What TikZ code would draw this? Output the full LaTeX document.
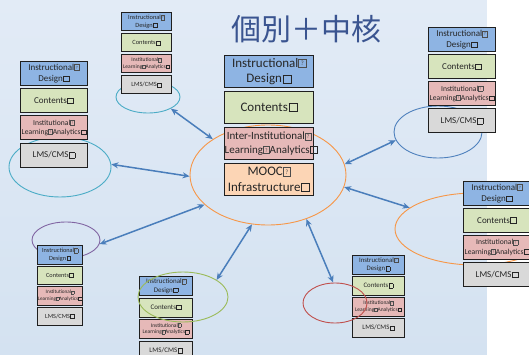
\documentclass[tikz,border=0pt]{standalone}
\usepackage{fontspec}
\setmainfont{Carlito}
\newfontfamily\cjk{Noto Sans CJK JP}
\usepackage{graphicx}
\usetikzlibrary{shapes.geometric,arrows.meta}
\definecolor{cblue}{HTML}{8EB4E3}
\definecolor{cgreen}{HTML}{D7E4BD}
\definecolor{cpink}{HTML}{E6B9B8}
\definecolor{corange}{HTML}{FCD5B5}
\definecolor{cgray}{HTML}{D9D9D9}
\definecolor{cborder}{HTML}{1F1F1F}
\definecolor{ctext}{HTML}{262626}
\definecolor{carrow}{HTML}{4A7EBB}
\definecolor{eorange}{HTML}{F79646}
\definecolor{eteal}{HTML}{4BACC6}
\definecolor{eblue}{HTML}{4F81BD}
\definecolor{epurple}{HTML}{8064A2}
\definecolor{egreen}{HTML}{9BBB59}
\definecolor{ered}{HTML}{C0504D}
\definecolor{ctitle}{HTML}{3A5490}
\definecolor{bgtop}{HTML}{E2EBF6}
\definecolor{bgbot}{HTML}{D4E2F1}
\newcommand\qb{{\setlength\fboxsep{0pt}\setlength\fboxrule{0.05em}\color{black!70}\fbox{\makebox[0.5em]{\rule{0pt}{0.62em}\raisebox{0.1em}{\scalebox{0.5}{?}}}}}}
\newcommand\sqb{\kern0.05em{\setlength\fboxsep{0pt}\setlength\fboxrule{0.08em}\fbox{\rule{0pt}{0.55em}\hspace{0.55em}}}}
\newcommand\fsz[1]{\fontsize{#1pt}{\dimexpr#1pt*12/10\relax}\selectfont}
\tikzset{
  bx/.style={draw=cborder,line width=1pt,inner sep=0pt,anchor=north west,align=center,text=ctext},
  ell/.style={ellipse,inner sep=0pt,line width=0.9pt},
  arr/.style={draw=carrow,line width=1.5pt,{Stealth[length=7pt,width=6pt]}-{Stealth[length=7pt,width=6pt]}}
}
% #1 name, #2 xleft, #3 width, #4 top, #5 h, #6 gap, #7 fs, #8 fs pink
\newcommand\satstack[8]{%
 \node[bx,fill=cblue,text width=#3pt,minimum height=#5pt,font=\fsz{#7}] (#1a) at (#2,#4) {Instructional\qb\\Design\sqb};
 \node[bx,fill=cgreen,text width=#3pt,minimum height=#5pt,font=\fsz{#7}] (#1b) at (#2,#4+#5+#6) {Contents\sqb};
 \node[bx,fill=cpink,text width=#3pt,minimum height=#5pt,font=\fsz{#8}] (#1c) at (#2,#4+2*#5+2*#6) {Institutional\qb\\Learning\qb Analytics\sqb};
 \node[bx,fill=cgray,text width=#3pt,minimum height=#5pt,font=\fsz{#7}] (#1d) at (#2,#4+3*#5+3*#6) {LMS/CMS\sqb};
}
\begin{document}
\begin{tikzpicture}[x=1pt,y=-1pt]
\useasboundingbox (0,0) rectangle (529,355);
\clip (0,0) rectangle (529,355);
\shade[top color=bgtop,bottom color=bgbot] (0,0) rectangle (487,355);
\fill[white] (487,0) rectangle (529,355);
% title
\node[font=\cjk\fontsize{30pt}{36pt}\selectfont,text=ctitle] (title) at (306,29) {個別＋中核};
% ellipses behind
\node[ell,draw=eorange,minimum width=156pt,minimum height=100pt] (ce) at (268,175) {};
\node[ell,draw=eteal,minimum width=64pt,minimum height=32pt] (tle) at (148,97) {};
\node[ell,draw=eteal,minimum width=102pt,minimum height=60pt] (le) at (60,167) {};
\node[ell,draw=eblue,minimum width=88pt,minimum height=52pt] (rte) at (438,132) {};
\node[ell,draw=eorange,minimum width=160pt,minimum height=72pt] (rme) at (475,229) {};
\node[ell,draw=epurple,minimum width=68pt,minimum height=36pt] (ble) at (66,240) {};
% central stack
\node[bx,line width=1.3pt,fill=cblue,text width=89pt,minimum height=32pt,font=\fsz{13}] (ca) at (224,55) {Instructional\qb\\Design\sqb};
\node[bx,line width=1.3pt,fill=cgreen,text width=89pt,minimum height=32pt,font=\fsz{13}] (cb) at (224,91) {Contents\sqb};
\node[bx,line width=1.3pt,fill=cpink,text width=89pt,minimum height=32pt,font=\fsz{11}] (cc) at (224,127) {Inter-Institutional\qb\\Learning\qb Analytics\sqb};
\node[bx,line width=1.3pt,fill=corange,text width=89pt,minimum height=32pt,font=\fsz{13}] (cd) at (224,163) {MOOC\qb\\Infrastructure\sqb};
% satellite stacks
\satstack{tl}{121}{50}{12}{18.5}{2.5}{6.4}{5.5}
\satstack{l}{20}{67}{61}{24}{3.2}{9}{7.6}
\satstack{rt}{428}{67}{27}{24.5}{2.5}{9}{7.6}
\satstack{rm}{463}{67}{181}{24}{3}{9}{7.6}
\satstack{bl}{37}{45}{245}{18.5}{2}{6.3}{5.2}
\satstack{bm}{139}{53}{276}{19}{2.5}{7}{5.5}
\satstack{br}{352}{52}{255}{18.5}{2.5}{6.8}{5.5}
% ellipses on top
\node[ell,draw=egreen,minimum width=90pt,minimum height=50pt] (bme) at (183,297) {};
\node[ell,draw=ered,minimum width=64pt,minimum height=40pt] (bre) at (335,303) {};
% arrows
\draw[arr] (tle.-27) -- (ce.147);
\draw[arr] (le.3) -- (ce.181.5);
\draw[arr] (ce.8.7) -- (rte.191);
\draw[arr] (ce.-9.3) -- (rme.162);
\draw[arr] (ce.205) -- (ble.-7);
\draw[arr] (ce.252) -- (bme.27);
\draw[arr] (ce.-49) -- (bre.95);
\end{tikzpicture}
\end{document}
